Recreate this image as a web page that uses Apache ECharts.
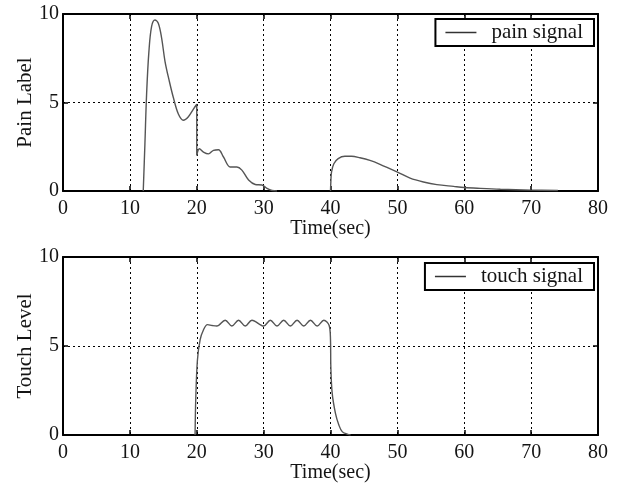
<!DOCTYPE html>
<html>
<head>
<meta charset="utf-8">
<script src="https://cdn.jsdelivr.net/npm/echarts@6/dist/echarts.min.js"></script>
<style>
html,body{margin:0;padding:0;background:#fff;}
#chart{width:629px;height:484px;}
</style>
</head>
<body>
<div id="chart"></div>
<script>
// ---- data ----
const painT = [12, 12.25, 12.5, 12.85, 13.25, 13.75, 14.25, 14.75, 15.25, 15.9, 16.5, 17.25, 18, 18.75, 19.5, 20, 20, 20.4, 21, 21.75, 22.5, 23.25, 24, 25, 26, 26.75, 27.75, 28.75, 29.75, 30.5, 31.25, 32,
               36,
               40, 40.05, 40.15, 40.5, 41.15, 42.15, 43.15, 44.4, 45.9, 47.4, 50, 51.9, 53.9, 55.9, 58.4, 60, 62.4, 65.4, 70, 74];
const painY = [0, 2.67, 5.47, 7.9, 9.3, 9.66, 9.48, 8.64, 7.33, 6.2, 5.28, 4.35, 4.0, 4.2, 4.63, 4.9, 2.0, 2.39, 2.2, 2.1, 2.3, 2.33, 1.92, 1.36, 1.36, 1.18, 0.62, 0.37, 0.34, 0.15, 0.03, 0,
               null,
               0, 0.5, 1.07, 1.54, 1.83, 1.96, 1.96, 1.88, 1.73, 1.51, 1.07, 0.73, 0.51, 0.36, 0.26, 0.2, 0.15, 0.1, 0.05, 0.03];
const touchT = [19.75, 19.85, 20.1, 20.5, 21, 21.6, 22.3, 23, 24.25, 25.25, 26.25, 27.25, 28.25, 30, 31, 32, 33, 34, 35, 36, 37, 38, 39, 39.8, 40, 40.05, 40.25, 40.75, 41.25, 41.75, 42.5, 43];
const touchY = [0, 2.0, 4.2, 5.35, 5.9, 6.2, 6.15, 6.12, 6.45, 6.12, 6.45, 6.12, 6.45, 6.12, 6.45, 6.12, 6.45, 6.12, 6.45, 6.12, 6.45, 6.12, 6.45, 6.15, 5.35, 3.85, 2.35, 1.2, 0.56, 0.19, 0.05, 0];
const xTicks = [0, 10, 20, 30, 40, 50, 60, 70, 80];
const yTicks = [0, 5, 10];
const seriesNames = ['pain signal', 'touch signal'];
const yNames = ['Pain Label', 'Touch Level'];
const xName = 'Time(sec)';

// ---- chart ----
const FONT = 'Liberation Serif';
const TXT = '#141414';
const chart = echarts.init(document.getElementById('chart'), null, {renderer: 'canvas'});
const pairs = (t, y) => t.map((v, i) => [v, y[i] === null ? '-' : y[i]]);

const grids = [
  {left: 63, top: 14, width: 535, height: 177},
  {left: 63, top: 257, width: 535, height: 178}
];
const xMin = xTicks[0], xMax = xTicks[xTicks.length - 1], xInt = xTicks[1] - xTicks[0];
const yMin = yTicks[0], yMax = yTicks[yTicks.length - 1], yInt = yTicks[1] - yTicks[0];

const gridLine = {show: true, lineStyle: {color: '#000', width: 1, type: [2, 3]}};
const tick = {show: true, inside: true, length: 5, lineStyle: {color: '#000', width: 1.5}};
const axLine = {show: true, onZero: false, lineStyle: {color: '#000', width: 2}};

const xAxis = [], yAxis = [];
[0, 1].forEach(g => {
  xAxis.push({
    type: 'value', gridIndex: g, min: xMin, max: xMax, interval: xInt, position: 'bottom',
    axisLine: axLine, axisTick: tick, splitLine: gridLine,
    axisLabel: {color: TXT, fontFamily: FONT, fontSize: 20, margin: 8},
    name: xName, nameLocation: 'middle', nameGap: 28, nameMoveOverlap: false,
    nameTextStyle: {color: TXT, fontFamily: FONT, fontSize: 20}
  });
  xAxis.push({
    type: 'value', gridIndex: g, min: xMin, max: xMax, interval: xInt, position: 'top',
    axisLine: axLine, axisTick: tick, splitLine: {show: false}, axisLabel: {show: false}
  });
  yAxis.push({
    type: 'value', gridIndex: g, min: yMin, max: yMax, interval: yInt, position: 'left',
    axisLine: axLine, axisTick: tick, splitLine: gridLine,
    axisLabel: {color: TXT, fontFamily: FONT, fontSize: 20, margin: 4},
    name: yNames[g], nameLocation: 'middle', nameGap: 27, nameMoveOverlap: false,
    nameTextStyle: {color: TXT, fontFamily: FONT, fontSize: 21}
  });
  yAxis.push({
    type: 'value', gridIndex: g, min: yMin, max: yMax, interval: yInt, position: 'right',
    axisLine: axLine, axisTick: tick, splitLine: {show: false}, axisLabel: {show: false}
  });
});

const lineSeries = (name, data, g) => ({
  name, type: 'line', data, xAxisIndex: g * 2, yAxisIndex: g * 2,
  symbol: 'none', smooth: 0.35, connectNulls: false,
  lineStyle: {color: '#555', width: 1.4}, itemStyle: {color: '#555'},
  z: 3, animation: false
});

const legendBase = {
  right: 35, itemWidth: 31, itemHeight: 1.5, itemGap: 0, icon: 'rect',
  backgroundColor: '#fff', borderColor: '#000', borderWidth: 2, borderRadius: 0,
  padding: [3, 11, 3, 10],
  textStyle: {color: TXT, fontFamily: FONT, fontSize: 21, padding: [0, 0, 0, 10]},
  itemStyle: {color: '#333'}
};

chart.setOption({
  animation: false,
  backgroundColor: '#fff',
  grid: grids,
  xAxis, yAxis,
  legend: [
    Object.assign({}, legendBase, {top: 19, data: [seriesNames[0]]}),
    Object.assign({}, legendBase, {top: 263, data: [seriesNames[1]]})
  ],
  series: [
    lineSeries(seriesNames[0], pairs(painT, painY), 0),
    lineSeries(seriesNames[1], pairs(touchT, touchY), 1)
  ]
});
</script>
</body>
</html>
